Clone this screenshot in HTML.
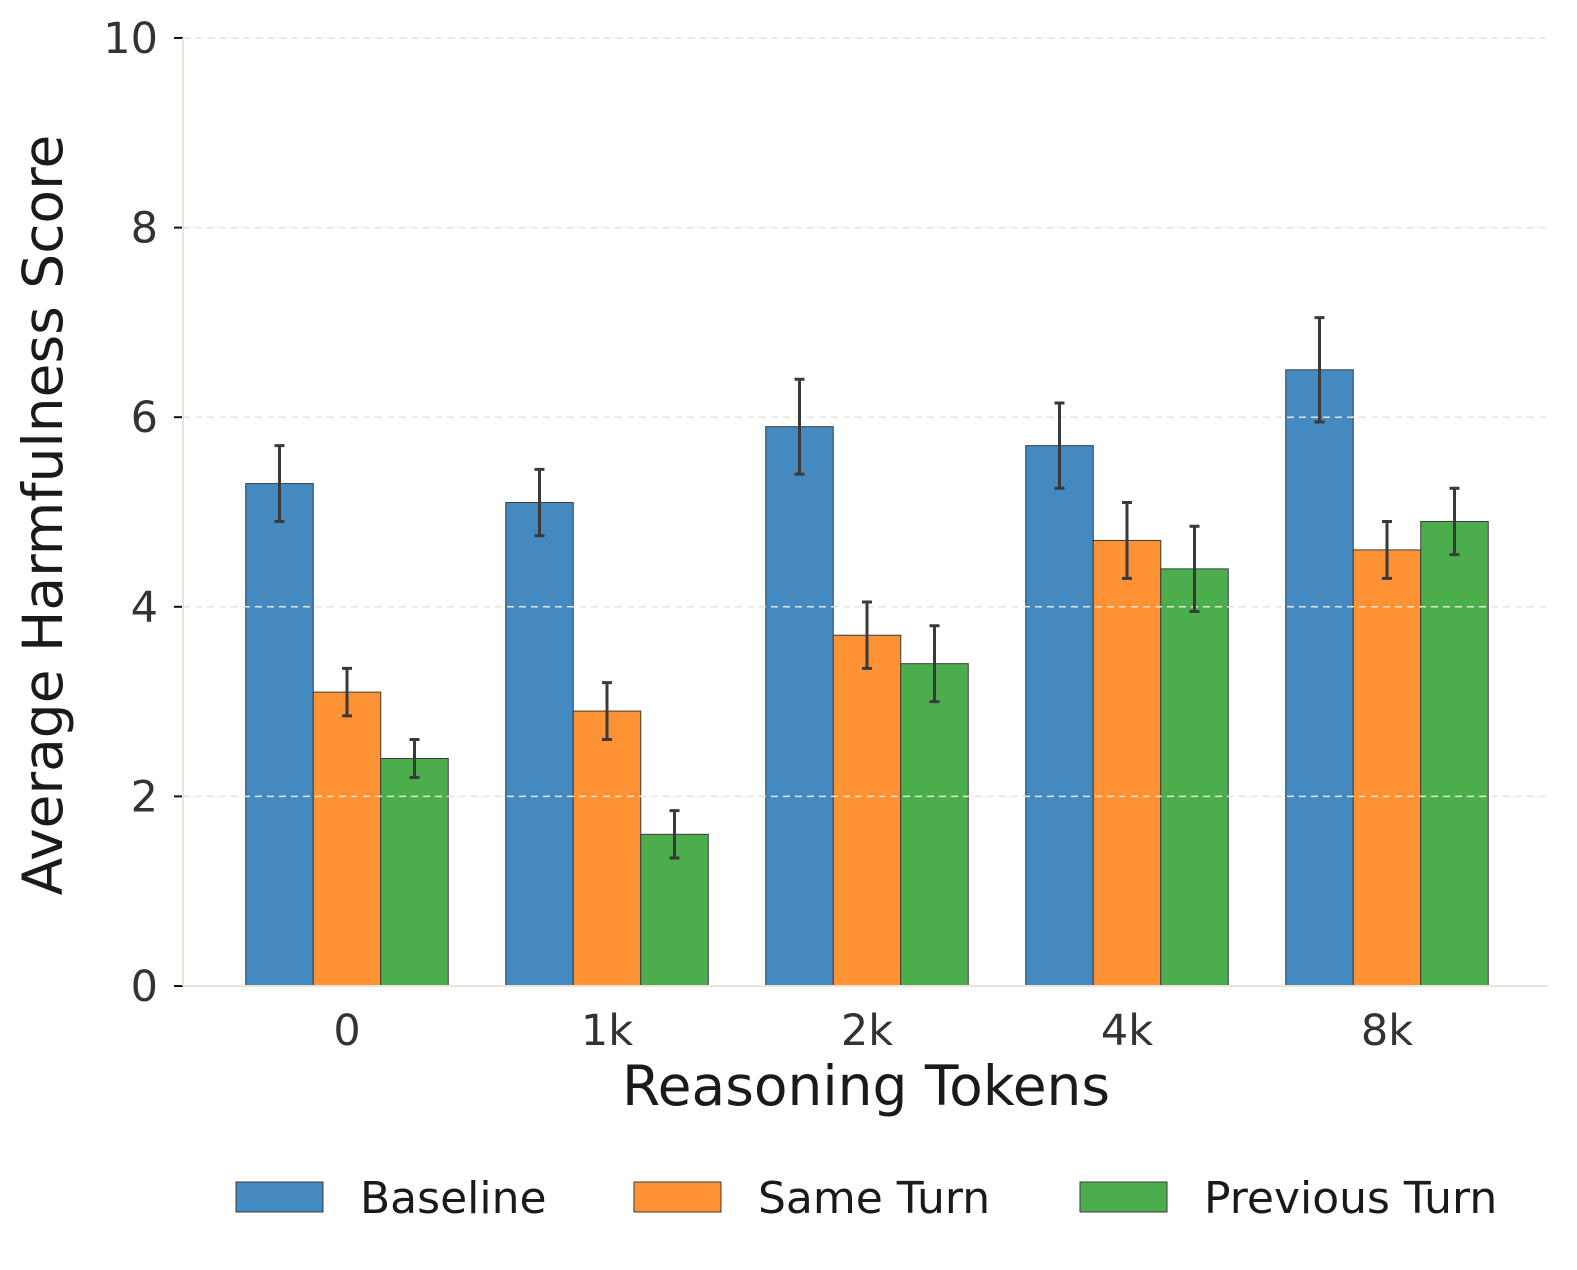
<!DOCTYPE html>
<html><head><meta charset="utf-8"><style>
html,body{margin:0;padding:0;background:#fff;}
svg text{font-family:"DejaVu Sans","Liberation Sans",sans-serif;}
</style></head><body>
<svg id="chart" width="1577" height="1265" viewBox="0 0 1577 1265" xmlns="http://www.w3.org/2000/svg">
<g id="bars"></g>
<g id="grid"></g>
<g id="errs"></g>
<g id="axes"></g>
<text x="866" y="1105" font-size="55" text-anchor="middle" fill="#1a1a1a">Reasoning Tokens</text>
<text transform="translate(62,515) rotate(-90)" font-size="55" text-anchor="middle" fill="#1a1a1a">Average Harmfulness Score</text>
<g id="legend"></g>
</svg>
<script>
const categories = ["0","1k","2k","4k","8k"];
const seriesNames = ["Baseline","Same Turn","Previous Turn"];
const baseline = [5.3,5.1,5.9,5.7,6.5];
const baselineErr = [0.4,0.35,0.5,0.45,0.55];
const sameTurn = [3.1,2.9,3.7,4.7,4.6];
const sameTurnErr = [0.25,0.3,0.35,0.4,0.3];
const prevTurn = [2.4,1.6,3.4,4.4,4.9];
const prevTurnErr = [0.2,0.25,0.4,0.45,0.35];
const yTicks = [0,2,4,6,8,10];

const NS="http://www.w3.org/2000/svg";
const colors=["#4489bf","#fe9234","#4cad4c"];
const X0=183,X1=1548,Y0=986,Y10=38;
const y=v=>Y0-(Y0-Y10)*v/10;
const groupX=i=>347+260*i;
const bw=67.5;
function mk(t,a,p){const e=document.createElementNS(NS,t);for(const k in a)e.setAttribute(k,a[k]);p.appendChild(e);return e;}
const bars=document.getElementById('bars'),grid=document.getElementById('grid'),errs=document.getElementById('errs'),axes=document.getElementById('axes'),legend=document.getElementById('legend');
const vals=[baseline,sameTurn,prevTurn],evs=[baselineErr,sameTurnErr,prevTurnErr];
const keys=['baseline','same-turn','previous-turn'];
vals.forEach((s,si)=>{s.forEach((v,i)=>{
  const x=groupX(i)+(si-1)*bw-bw/2;
  const r=mk('rect',{x:x,y:y(v),width:bw,height:Y0-y(v),fill:colors[si],stroke:'#3a3a3a','stroke-width':1},bars);
  
  
  const cx=x+bw/2,e=evs[si][i];
  const l=mk('path',{d:`M${cx},${y(v+e)}V${y(v-e)}M${cx-5},${y(v+e)}H${cx+5}M${cx-5},${y(v-e)}H${cx+5}`,stroke:'#3a3a3a','stroke-width':3,fill:'none'},errs);
  
  
});});
yTicks.forEach(t=>{
  if(t>0){const g=mk('line',{x1:X0,x2:X1,y1:y(t),y2:y(t),stroke:'#e8e4d8','stroke-width':1.5,'stroke-dasharray':'7,5'},grid);
  
  }
  mk('line',{x1:174,x2:X0,y1:y(t),y2:y(t),stroke:'#111','stroke-width':2},axes);
  const tx=mk('text',{x:158,y:y(t)+15,'font-size':43,'text-anchor':'end',fill:'#333'},axes);
  tx.textContent=t;
  
  
});
mk('line',{x1:X0,x2:X0,y1:Y10,y2:Y0,stroke:'#e8e4da','stroke-width':2},axes);
mk('line',{x1:X0,x2:X1,y1:Y0,y2:Y0,stroke:'#e8e4da','stroke-width':2},axes);
categories.forEach((c,i)=>{
  const tx=mk('text',{x:groupX(i),y:1045,'font-size':43,'text-anchor':'middle',fill:'#333'},axes);
  tx.textContent=c;
  
  
});
const lx=[236,634,1080];
seriesNames.forEach((n,si)=>{
  const g=mk('g',{},legend);
  
  
  mk('rect',{x:lx[si],y:1182,width:87,height:30,fill:colors[si],stroke:'#3a3a3a','stroke-width':1},g);
  const t=mk('text',{x:lx[si]+124,y:1213,'font-size':44,fill:'#1a1a1a'},g);
  t.textContent=n;
});
</script>
</body></html>
